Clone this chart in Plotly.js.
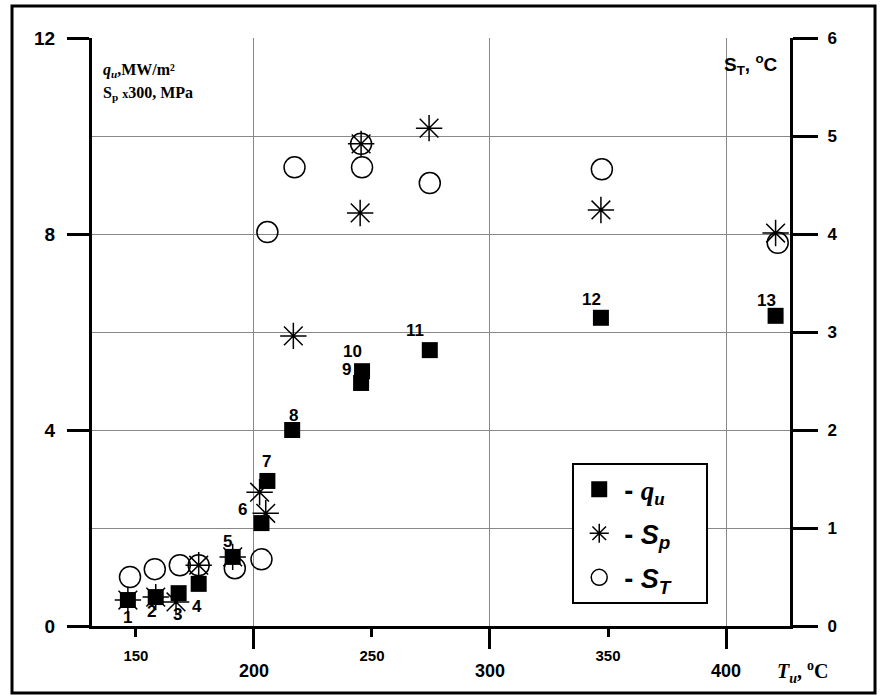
<!DOCTYPE html>
<html>
<head>
<meta charset="utf-8">
<script src="https://cdn.plot.ly/plotly-3.0.1.min.js"></script>
<style>html,body{margin:0;padding:0;background:#fff;}#chart{width:881px;height:699px;}</style>
</head>
<body>
<div id="chart"></div>
<script>
// ---- data ----
const qT   = [146.6, 158.4, 168.1, 176.6, 191.0, 203.2, 205.7, 216.2, 245.4, 245.8, 274.5, 347.0, 421.0];
const qVal = [0.53, 0.59, 0.67, 0.86, 1.41, 2.10, 2.96, 4.00, 4.96, 5.20, 5.63, 6.29, 6.33];
const pointLabels = ['1','2','3','4','5','6','7','8','9','10','11','12','13'];

const spT   = [146.6, 158.4, 167.0, 176.6, 191.0, 202.4, 205.0, 216.7, 245.0, 245.4, 274.2, 347.0, 421.0];
const spVal = [0.53, 0.59, 0.49, 1.24, 1.41, 2.73, 2.30, 5.92, 8.43, 9.84, 10.16, 8.49, 8.02];

const stT   = [147.5, 158.0, 168.6, 176.6, 191.9, 203.2, 205.7, 217.2, 245.4, 245.8, 274.5, 347.4, 421.9];
const stVal = [0.50, 0.58, 0.62, 0.62, 0.59, 0.68, 4.02, 4.68, 4.92, 4.68, 4.52, 4.66, 3.91];

const xMajorTicks = [200, 300, 400];
const xMinorTicks = [150, 250, 350];
const yLeftTicks  = [0, 4, 8, 12];
const yRightTicks = [0, 1, 2, 3, 4, 5, 6];

// label offsets in pixels (style, not data)
const labelDX = [0, -4, -1, -2, -5, -19, -1, 1, -15, -10, -15, -9, -9];
const labelDY = [-17, -14, -21, -23, 15, 14, 19, 15, 13, 20, 20, 18, 15];

const bold = v => '<b>' + v + '</b>';
const XR = [131.4, 427.1];
const SANS = 'Liberation Sans, Arial';
const SERIF = 'Liberation Serif, Times New Roman';
const PAD = '\u00a0\u00a0\u00a0\u00a0';

const traces = [
  {x: qT, y: qVal, type: 'scatter', mode: 'markers', name: '<b>- <span style="font-family:Liberation Serif"><i>q<sub>u</sub></i></span></b>' + PAD,
   legendgroup: 'a', marker: {symbol: 'square', size: 16, color: '#000'}, xaxis: 'x', yaxis: 'y'},
  {x: spT, y: spVal, type: 'scatter', mode: 'markers', name: '<b>- <i>S<sub>p</sub></i></b>' + PAD,
   legendgroup: 'b', marker: {symbol: 'asterisk-open', size: 22, color: '#000', line: {color: '#000', width: 1.5}}, xaxis: 'x', yaxis: 'y'},
  {x: stT, y: stVal, type: 'scatter', mode: 'markers', name: '<b>- <i>S<sub>T</sub></i></b>' + PAD,
   legendgroup: 'c', marker: {symbol: 'circle-open', size: 21, color: '#000', line: {color: '#000', width: 1.5}}, xaxis: 'x2', yaxis: 'y2'}
];

const annotations = pointLabels.map((t, i) => ({
  x: qT[i], y: qVal[i], xref: 'x', yref: 'y', text: bold(t), showarrow: false,
  xshift: labelDX[i], yshift: labelDY[i],
  font: {family: SANS, size: 17, color: '#000'}
}));

annotations.push(
  {xref: 'paper', yref: 'paper', x: 0.013, y: 0.9439, xanchor: 'left', yanchor: 'middle', showarrow: false,
   text: '<b><i>q<sub>u</sub></i>,MW/m²</b>',
   font: {family: SERIF, size: 16, color: '#000'}},
  {xref: 'paper', yref: 'paper', x: 0.013, y: 0.9048, xanchor: 'left', yanchor: 'middle', showarrow: false,
   text: '<b>S<sub>p</sub> <span style="font-size:12px">x</span>300, MPa</b>',
   font: {family: SERIF, size: 16, color: '#000'}},
  {xref: 'paper', yref: 'paper', x: 0.986, y: 0.955, xanchor: 'right', yanchor: 'middle', showarrow: false,
   text: '<b>S<sub>T</sub>, <sup>o</sup>C</b>',
   font: {family: SANS, size: 19, color: '#000'}},
  {xref: 'paper', yref: 'paper', x: 0.978, y: -0.078, xanchor: 'left', yanchor: 'middle', showarrow: false,
   text: '<b><i>T<sub>u</sub></i>, <sup>o</sup>C</b>',
   font: {family: SERIF, size: 20, color: '#000'}}
);

const layout = {
  width: 881, height: 699,
  margin: {l: 92, r: 91, t: 38, b: 73},
  paper_bgcolor: '#fff', plot_bgcolor: '#fff',
  showlegend: true,
  legend: {x: 0.688, y: 0.277, xanchor: 'left', yanchor: 'top', bgcolor: '#fff', bordercolor: '#000', borderwidth: 2,
           tracegroupgap: 6, itemwidth: 40,
           font: {family: SANS, size: 27, color: '#000'}},
  xaxis: {range: XR, tickmode: 'array', tickvals: xMajorTicks, ticktext: xMajorTicks.map(bold), ticks: 'outside', ticklen: 20, tickwidth: 3,
          tickcolor: '#000', showline: true, linewidth: 3, linecolor: '#000', showgrid: true, gridcolor: '#888', gridwidth: 1,
          zeroline: false, tickfont: {family: SANS, size: 18, color: '#000'}, ticklabelstandoff: 6},
  xaxis2: {range: XR, overlaying: 'x', side: 'bottom', anchor: 'y2', tickmode: 'array', tickvals: xMinorTicks, ticktext: xMinorTicks.map(bold),
           ticks: 'outside', ticklen: 10, tickwidth: 3, tickcolor: '#000', showline: false, showgrid: false, zeroline: false,
           tickfont: {family: SANS, size: 15, color: '#000'}, ticklabelstandoff: 6},
  yaxis: {range: [0, 12], tickmode: 'array', tickvals: yLeftTicks, ticktext: yLeftTicks.map(bold), ticks: 'outside', ticklen: 22, tickwidth: 3, tickcolor: '#000',
          showline: true, linewidth: 3, linecolor: '#000', showgrid: false, zeroline: false,
          tickfont: {family: SANS, size: 19, color: '#000'}, ticklabelstandoff: 8},
  yaxis2: {range: [0, 6], overlaying: 'y', side: 'right', anchor: 'x2', tickmode: 'array', tickvals: yRightTicks, ticktext: yRightTicks.map(bold),
           ticks: 'outside', ticklen: 25, tickwidth: 3, tickcolor: '#000',
           showline: true, linewidth: 3, linecolor: '#000', showgrid: true, gridcolor: '#888', gridwidth: 1, zeroline: false,
           tickfont: {family: SANS, size: 17, color: '#000'}, ticklabelstandoff: 6},
  shapes: [
    {type: 'rect', xref: 'paper', yref: 'paper', x0: -0.1146, x1: 1.1218, y0: -0.114, y1: 1.0544,
     line: {color: '#000', width: 3}}
  ],
  annotations: annotations
};

Plotly.newPlot('chart', traces, layout, {displayModeBar: false, staticPlot: true});
</script>
</body>
</html>
